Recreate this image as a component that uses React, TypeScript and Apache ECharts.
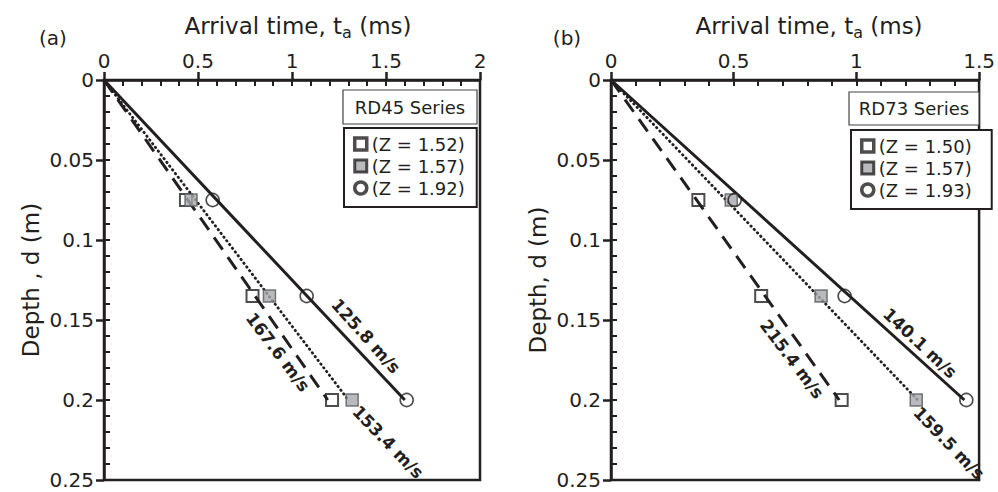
import React, { useEffect, useRef } from "react";
import * as echarts from "echarts";

// ---------- data ----------
const depths = [0.075, 0.135, 0.2];

// panel (a) – RD45 Series
const aLegendNames = ["(Z = 1.52)", "(Z = 1.57)", "(Z = 1.92)"];
const aTimesZ152 = [0.436, 0.79, 1.213];
const aTimesZ157 = [0.463, 0.88, 1.32];
const aTimesZ192 = [0.578, 1.078, 1.61];
const aFitSolid = [[0, 0], [1.6, 0.2]];
const aFitDashed = [[0, 0], [1.19, 0.2]];
const aFitDotted = [[0, 0], [1.3, 0.2]];
const aVelocityLabels = ["125.8 m/s", "167.6 m/s", "153.4 m/s"];

// panel (b) – RD73 Series
const bLegendNames = ["(Z = 1.50)", "(Z = 1.57)", "(Z = 1.93)"];
const bTimesZ150 = [0.356, 0.612, 0.94];
const bTimesZ157 = [0.49, 0.856, 1.244];
const bTimesZ193 = [0.504, 0.952, 1.448];
const bFitSolid = [[0, 0], [1.44, 0.2]];
const bFitDashed = [[0, 0], [0.93, 0.2]];
const bFitDotted = [[0, 0], [1.25, 0.2]];
const bVelocityLabels = ["140.1 m/s", "215.4 m/s", "159.5 m/s"];

const aXTicks = { max: 2, interval: 0.5 };
const bXTicks = { max: 1.5, interval: 0.5 };
const yTicks = { max: 0.25, interval: 0.05 };

// ---------- style ----------
const FONT = '"DejaVu Sans", Verdana, sans-serif';
const INK = "#231f20";
const GRAY = "#a7a9ac";

const pts = (times: number[]) => times.map((t, i) => [t, depths[i]]);

function xAxes(grid: number, max: number, interval: number, shift: number) {
  return [
    {
      gridIndex: grid,
      type: "value",
      position: "top",
      min: 0,
      max,
      interval,
      name: "{m|Arrival time, t}{s|a}{m| (ms)}",
      nameLocation: "middle",
      nameGap: 40,
      nameTextStyle: {
        color: INK,
        fontFamily: FONT,
        padding: [0, 0, 0, shift],
        rich: {
          m: { fontSize: 23, fontFamily: FONT, color: INK },
          s: { fontSize: 16, fontFamily: FONT, color: INK, padding: [12, 0, 0, 0] },
        },
      },
      axisLine: { show: true, onZero: false, lineStyle: { color: INK, width: 2.5 } },
      axisTick: { show: true, inside: false, length: 8, lineStyle: { color: INK, width: 2.5 } },
      axisLabel: { fontSize: 20, fontFamily: FONT, color: INK, margin: 9 },
      splitLine: { show: false },
    },
    {
      gridIndex: grid,
      type: "value",
      position: "top",
      min: 0,
      max,
      interval: 0.1,
      axisLine: { show: false },
      axisTick: { show: true, inside: true, length: 6, lineStyle: { color: INK, width: 2 } },
      axisLabel: { show: false },
      splitLine: { show: false },
    },
  ];
}

function yAxes(grid: number, name: string) {
  return [
    {
      gridIndex: grid,
      type: "value",
      position: "left",
      inverse: true,
      min: 0,
      max: yTicks.max,
      interval: yTicks.interval,
      name,
      nameLocation: "middle",
      nameGap: 62,
      nameRotate: 90,
      nameTextStyle: { fontSize: 23, fontFamily: FONT, color: INK },
      axisLine: { show: true, onZero: false, lineStyle: { color: INK, width: 2.5 } },
      axisTick: { show: true, inside: false, length: 8, lineStyle: { color: INK, width: 2.5 } },
      axisLabel: { fontSize: 20, fontFamily: FONT, color: INK, margin: 10 },
      splitLine: { show: false },
    },
    {
      gridIndex: grid,
      type: "value",
      position: "left",
      offset: 0,
      inverse: true,
      min: 0,
      max: yTicks.max,
      interval: 0.01,
      axisLine: { show: false },
      axisTick: { show: true, inside: true, length: 6, lineStyle: { color: INK, width: 2 } },
      axisLabel: { show: false },
      splitLine: { show: false },
    },
  ];
}

function fitLine(name: string, data: number[][], ax: number, kind: "solid" | "dashed" | "dotted") {
  const type = kind === "solid" ? "solid" : kind === "dashed" ? [15, 9] : [0.5, 4.2];
  return {
    name,
    type: "line",
    xAxisIndex: ax,
    yAxisIndex: ax,
    data,
    symbol: "none",
    silent: true,
    z: 2,
    lineStyle: { color: INK, width: kind === "dotted" ? 2.8 : 3, type, cap: kind === "dotted" ? "round" : "butt" },
  };
}

function markers(name: string, times: number[], ax: number, kind: "open" | "gray" | "circle") {
  const itemStyle =
    kind === "open"
      ? { color: "rgba(0,0,0,0)", borderColor: INK, borderWidth: 2 }
      : kind === "gray"
      ? { color: GRAY, borderColor: "#58595b", borderWidth: 1.5 }
      : { color: "rgba(0,0,0,0)", borderColor: INK, borderWidth: 1.6 };
  return {
    name,
    type: "scatter",
    xAxisIndex: ax,
    yAxisIndex: ax,
    data: pts(times),
    symbol: kind === "circle" ? "circle" : "rect",
    symbolSize: kind === "circle" ? 13 : 12,
    itemStyle,
    z: 5,
  };
}

function legendData(names: string[]) {
  return [
    { name: names[0], icon: "rect", itemStyle: { color: "#fff", borderColor: INK, borderWidth: 3.5 } },
    { name: names[1], icon: "rect", itemStyle: { color: GRAY, borderColor: INK, borderWidth: 3 } },
    { name: names[2], icon: "circle", itemStyle: { color: "#fff", borderColor: INK, borderWidth: 3.5 } },
  ];
}

function legend(names: string[], left: number, top: number, padRight: number) {
  return {
    data: legendData(names),
    orient: "vertical",
    left,
    top,
    padding: [7, padRight, 10, 9],
    itemGap: 4,
    itemWidth: 12,
    itemHeight: 12,
    itemTextGap: 3,
    borderColor: INK,
    borderWidth: 2,
    backgroundColor: "#fff",
    selectedMode: false,
    textStyle: { fontSize: 18, fontFamily: FONT, color: INK },
    z: 10,
  };
}

function seriesBox(text: string, x: number, y: number, w: number, h: number) {
  return [
    { type: "rect", shape: { x, y, width: w, height: h }, style: { fill: "#fff", stroke: "#444", lineWidth: 1.2 }, z: 10 },
    {
      type: "text",
      x: x + w / 2,
      y: y + h / 2,
      style: { text, fontSize: 18, fontFamily: FONT, fill: INK, align: "center", verticalAlign: "middle", textAlign: "center", textVerticalAlign: "middle" },
      z: 11,
    },
  ];
}

function velText(text: string, x: number, y: number, deg: number) {
  return {
    type: "text",
    x,
    y,
    rotation: (-deg * Math.PI) / 180,
    style: {
      text,
      fontSize: 17,
      fontWeight: "bold",
      fontFamily: FONT,
      fill: INK,
      align: "center",
      verticalAlign: "middle",
      textAlign: "center",
      textVerticalAlign: "middle",
    },
    z: 8,
  };
}

function panelText(text: string, x: number, y: number) {
  return {
    type: "text",
    x,
    y,
    style: { text, fontSize: 20, fontFamily: FONT, fill: INK, align: "center", verticalAlign: "middle", textAlign: "center", textVerticalAlign: "middle" },
  };
}

export default function App() {
  const ref = useRef<HTMLDivElement>(null);
  useEffect(() => {
    document.body.style.margin = "0";
    if (!ref.current) return;
    const chart = echarts.init(ref.current, undefined, { renderer: "svg" });
    const option: any = {
      animation: false,
      backgroundColor: "#fff",
      textStyle: { fontFamily: FONT },
      grid: [
        { left: 104, top: 80, width: 376, height: 400, show: true, borderColor: INK, borderWidth: 2.5, backgroundColor: "transparent" },
        { left: 611, top: 80, width: 375, height: 400, show: true, borderColor: INK, borderWidth: 2.5, backgroundColor: "transparent" },
      ],
      xAxis: [...xAxes(0, aXTicks.max, aXTicks.interval, 12), ...xAxes(1, bXTicks.max, bXTicks.interval, 28)],
      yAxis: [...yAxes(0, "Depth , d (m)"), ...yAxes(1, "Depth, d (m)")],
      legend: [legend(aLegendNames, 344, 128, 12), legend(bLegendNames, 851, 130, 20)],
      series: [
        fitLine("a fit solid", aFitSolid, 0, "solid"),
        fitLine("a fit dashed", aFitDashed, 0, "dashed"),
        fitLine("a fit dotted", aFitDotted, 0, "dotted"),
        markers(aLegendNames[0], aTimesZ152, 0, "open"),
        markers(aLegendNames[1], aTimesZ157, 0, "gray"),
        markers(aLegendNames[2], aTimesZ192, 0, "circle"),
        fitLine("b fit solid", bFitSolid, 2, "solid"),
        fitLine("b fit dashed", bFitDashed, 2, "dashed"),
        fitLine("b fit dotted", bFitDotted, 2, "dotted"),
        markers(bLegendNames[1], bTimesZ157, 2, "gray"),
        markers(bLegendNames[0], bTimesZ150, 2, "open"),
        markers(bLegendNames[2], bTimesZ193, 2, "circle"),
      ],
      graphic: [
        panelText("(a)", 53, 38),
        panelText("(b)", 567, 38),
        ...seriesBox("RD45 Series", 343, 90, 134, 34),
        ...seriesBox("RD73 Series", 849, 92, 130, 33),
        velText(aVelocityLabels[0], 366, 336, 48),
        velText(aVelocityLabels[1], 278, 352, 53),
        velText(aVelocityLabels[2], 388, 442, 46),
        velText(bVelocityLabels[0], 920, 343, 43),
        velText(bVelocityLabels[1], 792, 359, 53),
        velText(bVelocityLabels[2], 949, 443, 46),
      ],
    };
    chart.setOption(option);
    return () => chart.dispose();
  }, []);
  return <div ref={ref} style={{ width: 998, height: 492 }} />;
}
